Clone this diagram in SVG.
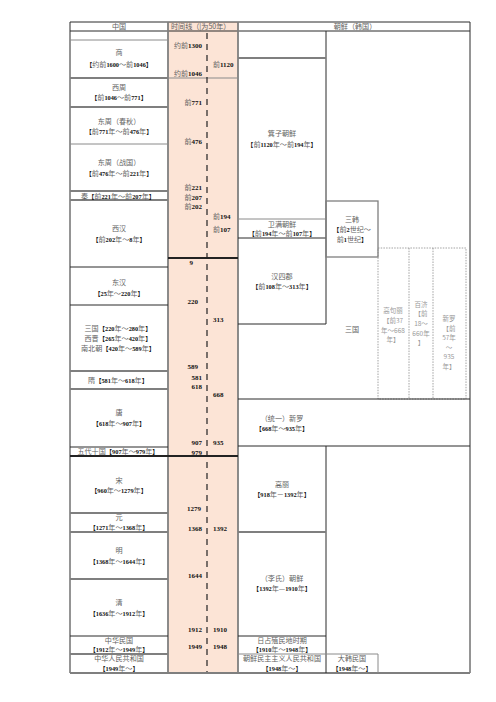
<svg xmlns="http://www.w3.org/2000/svg" width="496" height="702" viewBox="0 0 496 702">
<style>
.c{font-family:"Noto Sans CJK SC",sans-serif;font-size:7.1px;fill:#626262;text-anchor:middle}
.s{font-size:6.5px;fill:#9a9a9a}
.b{font-family:"Liberation Serif","Noto Sans CJK SC",serif;font-weight:bold;font-size:6.3px;fill:#111}
.t{font-family:"Noto Sans CJK SC",sans-serif;font-size:7px;fill:#626262}
.tn{font-family:"Liberation Serif",serif;font-weight:bold;font-size:7px;fill:#111}
.e{text-anchor:end}
.g{stroke:#7f7f7f;stroke-width:1.8;fill:none}
.gt{stroke:#8a8a8a;stroke-width:1;fill:none}
.k{stroke:#2b2b2b;stroke-width:1;fill:none}
.kk{stroke:#222;stroke-width:1.8;fill:none}
.d{stroke:#8a8a8a;stroke-width:0.8;stroke-dasharray:1.5 1.2;fill:none}
.tl{stroke:#222;stroke-width:1.2;stroke-dasharray:6 5;fill:none}
</style>
<rect width="496" height="702" fill="#fff"/>
<rect x="168" y="22" width="70" height="651" fill="#FCE4D6"/>

<g id="grid">
  <line class="k" x1="70" y1="22" x2="470" y2="22"/>
  <line class="k" x1="70" y1="31" x2="470" y2="31"/>
  <line class="k" x1="70" y1="22" x2="70" y2="673"/>
  <line class="k" x1="470" y1="22" x2="470" y2="673"/>
  <line class="g" x1="168" y1="22" x2="168" y2="673"/>
  <line class="g" x1="238" y1="22" x2="238" y2="673"/>
  <line class="gt" x1="70" y1="40" x2="168" y2="40"/>
  <line class="g" x1="70" y1="78" x2="168" y2="78"/>
  <line class="gt" x1="168" y1="78" x2="238" y2="78"/>
  <line class="g" x1="70" y1="107" x2="168" y2="107"/>
  <line class="gt" x1="70" y1="144" x2="168" y2="144"/>
  <line class="g" x1="70" y1="191" x2="168" y2="191"/>
  <line class="g" x1="70" y1="200" x2="168" y2="200"/>
  <line class="k" x1="70" y1="267" x2="168" y2="267"/>
  <line class="kk" x1="168" y1="258" x2="238" y2="258"/>
  <line class="k" x1="70" y1="305" x2="168" y2="305"/>
  <line class="g" x1="70" y1="371" x2="168" y2="371"/>
  <line class="g" x1="70" y1="389" x2="168" y2="389"/>
  <line class="k" x1="70" y1="447" x2="168" y2="447"/>
  <line class="kk" x1="70" y1="456" x2="238" y2="456"/>
  <line class="g" x1="70" y1="513" x2="168" y2="513"/>
  <line class="g" x1="70" y1="532" x2="168" y2="532"/>
  <line class="g" x1="70" y1="579" x2="168" y2="579"/>
  <line class="k" x1="70" y1="636" x2="168" y2="636"/>
  <line class="g" x1="70" y1="654" x2="168" y2="654"/>
  <line class="g" x1="70" y1="673" x2="470" y2="673"/>
  <line class="k" x1="326" y1="31" x2="326" y2="324"/>
  <line class="k" x1="326" y1="446" x2="326" y2="673"/>
  <line class="g" x1="238" y1="58" x2="326" y2="58"/>
  <line class="gt" x1="238" y1="219" x2="326" y2="219"/>
  <line class="k" x1="238" y1="238" x2="326" y2="238"/>
  <line class="k" x1="238" y1="324" x2="326" y2="324"/>
  <rect class="g" x="326" y="201" width="52" height="56" style="stroke-width:1.3"/>
  <rect class="d" x="378" y="248" width="88" height="151"/>
  <line class="d" x1="409" y1="248" x2="409" y2="399"/>
  <line class="d" x1="433" y1="248" x2="433" y2="399"/>
  <line class="k" x1="238" y1="399" x2="470" y2="399"/>
  <line class="k" x1="238" y1="446" x2="470" y2="446"/>
  <line class="g" x1="238" y1="532" x2="326" y2="532"/>
  <line class="k" x1="238" y1="636" x2="326" y2="636"/>
  <line class="gt" x1="238" y1="654" x2="378" y2="654"/>
  <line class="gt" x1="378" y1="654" x2="378" y2="673"/>
  <line class="tl" x1="207" y1="33" x2="207" y2="672"/>
</g>

<g id="header">
  <text class="c" x="119" y="29">中国</text>
  <text class="c" x="171" y="29" style="text-anchor:start">时间线（|为50年）</text>
  <text class="c" x="355" y="29">朝鲜（韩国）</text>
</g>

<g id="timeline-labels">
  <text class="t e" x="202" y="47.5">约前<tspan class="tn">1300</tspan></text>
  <text class="t e" x="202" y="75.5">约前<tspan class="tn">1046</tspan></text>
  <text class="t e" x="202" y="104.5">前<tspan class="tn">771</tspan></text>
  <text class="t e" x="202" y="143.5">前<tspan class="tn">476</tspan></text>
  <text class="t e" x="202" y="189.5">前<tspan class="tn">221</tspan></text>
  <text class="t e" x="202" y="199.5">前<tspan class="tn">207</tspan></text>
  <text class="t e" x="202" y="208.5">前<tspan class="tn">202</tspan></text>
  <text class="tn e" x="193" y="264.5">9</text>
  <text class="tn e" x="198" y="303.5">220</text>
  <text class="tn e" x="198" y="368.5">589</text>
  <text class="tn e" x="202" y="379.5">581</text>
  <text class="tn e" x="202" y="388.5">618</text>
  <text class="tn e" x="202" y="444.5">907</text>
  <text class="tn e" x="202" y="454.5">979</text>
  <text class="tn e" x="201" y="510.5">1279</text>
  <text class="tn e" x="202" y="530.5">1368</text>
  <text class="tn e" x="202" y="577.5">1644</text>
  <text class="tn e" x="202" y="631.5">1912</text>
  <text class="tn e" x="202" y="648.5">1949</text>
  <text class="t" x="213" y="66.5">前<tspan class="tn">1120</tspan></text>
  <text class="t" x="213" y="218.5">前<tspan class="tn">194</tspan></text>
  <text class="t" x="213" y="231.5">前<tspan class="tn">107</tspan></text>
  <text class="tn" x="213" y="321.5">313</text>
  <text class="tn" x="213" y="396.5">668</text>
  <text class="tn" x="213" y="444.5">935</text>
  <text class="tn" x="213" y="530.5">1392</text>
  <text class="tn" x="213" y="631.5">1910</text>
  <text class="tn" x="213" y="648.5">1948</text>
</g>

<g id="shang"><text class="c" x="119" y="55">商</text><text class="c" x="119" y="67"><tspan class="b">【</tspan>约前<tspan class="b">1600</tspan>～前<tspan class="b">1046</tspan><tspan class="b">】</tspan></text></g>
<g id="xizhou"><text class="c" x="119" y="90">西周</text><text class="c" x="119" y="100"><tspan class="b">【</tspan>前<tspan class="b">1046</tspan>～前<tspan class="b">771</tspan><tspan class="b">】</tspan></text></g>
<g id="chunqiu"><text class="c" x="119" y="124">东周（春秋）</text><text class="c" x="119" y="134"><tspan class="b">【</tspan>前<tspan class="b">771</tspan>年～前<tspan class="b">476</tspan>年<tspan class="b">】</tspan></text></g>
<g id="zhanguo"><text class="c" x="119" y="165">东周（战国）</text><text class="c" x="119" y="176"><tspan class="b">【</tspan>前<tspan class="b">476</tspan>年～前<tspan class="b">221</tspan>年<tspan class="b">】</tspan></text></g>
<g id="qin"><text class="c" x="118" y="198.5">秦<tspan class="b">【</tspan>前<tspan class="b">221</tspan>年～前<tspan class="b">207</tspan>年<tspan class="b">】</tspan></text></g>
<g id="xihan"><text class="c" x="119" y="231">西汉</text><text class="c" x="119" y="242"><tspan class="b">【</tspan>前<tspan class="b">202</tspan>年～<tspan class="b">8</tspan>年<tspan class="b">】</tspan></text></g>
<g id="donghan"><text class="c" x="119" y="285">东汉</text><text class="c" x="119" y="296"><tspan class="b">【</tspan><tspan class="b">25</tspan>年～<tspan class="b">220</tspan>年<tspan class="b">】</tspan></text></g>
<g id="sanguo-cn">
  <text class="c" x="118" y="330.5">三国<tspan class="b">【</tspan><tspan class="b">220</tspan>年～<tspan class="b">280</tspan>年<tspan class="b">】</tspan></text>
  <text class="c" x="118" y="340.5">西晋<tspan class="b">【</tspan><tspan class="b">265</tspan>年～<tspan class="b">420</tspan>年<tspan class="b">】</tspan></text>
  <text class="c" x="118" y="350.5">南北朝<tspan class="b">【</tspan><tspan class="b">420</tspan>年～<tspan class="b">589</tspan>年<tspan class="b">】</tspan></text>
</g>
<g id="sui"><text class="c" x="118" y="383">隋<tspan class="b">【</tspan><tspan class="b">581</tspan>年～<tspan class="b">618</tspan>年<tspan class="b">】</tspan></text></g>
<g id="tang"><text class="c" x="119" y="415">唐</text><text class="c" x="119" y="426"><tspan class="b">【</tspan><tspan class="b">618</tspan>年～<tspan class="b">907</tspan>年<tspan class="b">】</tspan></text></g>
<g id="wudai"><text class="c" x="118" y="454">五代十国<tspan class="b">【</tspan><tspan class="b">907</tspan>年～<tspan class="b">979</tspan>年<tspan class="b">】</tspan></text></g>
<g id="song"><text class="c" x="119" y="483">宋</text><text class="c" x="119" y="493"><tspan class="b">【</tspan><tspan class="b">960</tspan>年～<tspan class="b">1279</tspan>年<tspan class="b">】</tspan></text></g>
<g id="yuan"><text class="c" x="119" y="520">元</text><text class="c" x="119" y="530"><tspan class="b">【</tspan><tspan class="b">1271</tspan>年～<tspan class="b">1368</tspan>年<tspan class="b">】</tspan></text></g>
<g id="ming"><text class="c" x="119" y="553">明</text><text class="c" x="119" y="564"><tspan class="b">【</tspan><tspan class="b">1368</tspan>年～<tspan class="b">1644</tspan>年<tspan class="b">】</tspan></text></g>
<g id="qing"><text class="c" x="119" y="605">清</text><text class="c" x="119" y="616"><tspan class="b">【</tspan><tspan class="b">1636</tspan>年～<tspan class="b">1912</tspan>年<tspan class="b">】</tspan></text></g>
<g id="minguo"><text class="c" x="119" y="642.5">中华民国</text><text class="c" x="119" y="652"><tspan class="b">【</tspan><tspan class="b">1912</tspan>年～<tspan class="b">1949</tspan>年<tspan class="b">】</tspan></text></g>
<g id="prc"><text class="c" x="119" y="661">中华人民共和国</text><text class="c" x="119" y="670.5"><tspan class="b">【</tspan><tspan class="b">1949</tspan>年～<tspan class="b">】</tspan></text></g>

<g id="jizi"><text class="c" x="282" y="136">箕子朝鲜</text><text class="c" x="282" y="147"><tspan class="b">【</tspan>前<tspan class="b">1120</tspan>年～前<tspan class="b">194</tspan>年<tspan class="b">】</tspan></text></g>
<g id="weiman"><text class="c" x="282" y="226.5">卫满朝鲜</text><text class="c" x="282" y="236"><tspan class="b">【</tspan>前<tspan class="b">194</tspan>年～前<tspan class="b">107</tspan>年<tspan class="b">】</tspan></text></g>
<g id="samhan"><text class="c" x="352" y="222">三韩</text><text class="c" x="352" y="231.5"><tspan class="b">【</tspan>前<tspan class="b">2</tspan>世纪～</text><text class="c" x="352" y="242">前<tspan class="b">1</tspan>世纪<tspan class="b">】</tspan></text></g>
<g id="hansijun"><text class="c" x="282" y="279">汉四郡</text><text class="c" x="282" y="289"><tspan class="b">【</tspan>前<tspan class="b">108</tspan>年～<tspan class="b">313</tspan>年<tspan class="b">】</tspan></text></g>
<g id="sanguo-kr"><text class="c" x="352" y="332">三国</text></g>
<g id="goguryeo">
  <text class="c s" x="393" y="313">高句丽</text>
  <text class="c s" x="393" y="323">【前37</text>
  <text class="c s" x="393" y="333">年～668</text>
  <text class="c s" x="393" y="342">年】</text>
</g>
<g id="baekje">
  <text class="c s" x="421" y="307">百济</text>
  <text class="c s" x="421" y="316">【前</text>
  <text class="c s" x="421" y="326">18～</text>
  <text class="c s" x="421" y="336">660年</text>
  <text class="c s" x="421" y="345">】</text>
</g>
<g id="silla">
  <text class="c s" x="449" y="321">新罗</text>
  <text class="c s" x="449" y="331">【前</text>
  <text class="c s" x="449" y="340">57年</text>
  <text class="c s" x="449" y="350">～</text>
  <text class="c s" x="449" y="359">935</text>
  <text class="c s" x="449" y="369">年】</text>
</g>
<g id="unified-silla"><text class="c" x="282" y="421">（统一）新罗</text><text class="c" x="282" y="431"><tspan class="b">【</tspan><tspan class="b">668</tspan>年～<tspan class="b">935</tspan>年<tspan class="b">】</tspan></text></g>
<g id="goryeo"><text class="c" x="282" y="487">高丽</text><text class="c" x="282" y="497"><tspan class="b">【</tspan><tspan class="b">918</tspan>年－<tspan class="b">1392</tspan>年<tspan class="b">】</tspan></text></g>
<g id="joseon"><text class="c" x="282" y="581">（李氏）朝鲜</text><text class="c" x="282" y="591"><tspan class="b">【</tspan><tspan class="b">1392</tspan>年—<tspan class="b">1910</tspan>年<tspan class="b">】</tspan></text></g>
<g id="colonial"><text class="c" x="282" y="642.5">日占殖民地时期</text><text class="c" x="282" y="652"><tspan class="b">【</tspan><tspan class="b">1910</tspan>年～<tspan class="b">1948</tspan>年<tspan class="b">】</tspan></text></g>
<g id="dprk"><text class="c" x="282" y="661">朝鲜民主主义人民共和国</text><text class="c" x="282" y="670.5"><tspan class="b">【</tspan><tspan class="b">1948</tspan>年～<tspan class="b">】</tspan></text></g>
<g id="rok"><text class="c" x="352" y="661">大韩民国</text><text class="c" x="352" y="670.5"><tspan class="b">【</tspan><tspan class="b">1948</tspan>年～<tspan class="b">】</tspan></text></g>
</svg>
